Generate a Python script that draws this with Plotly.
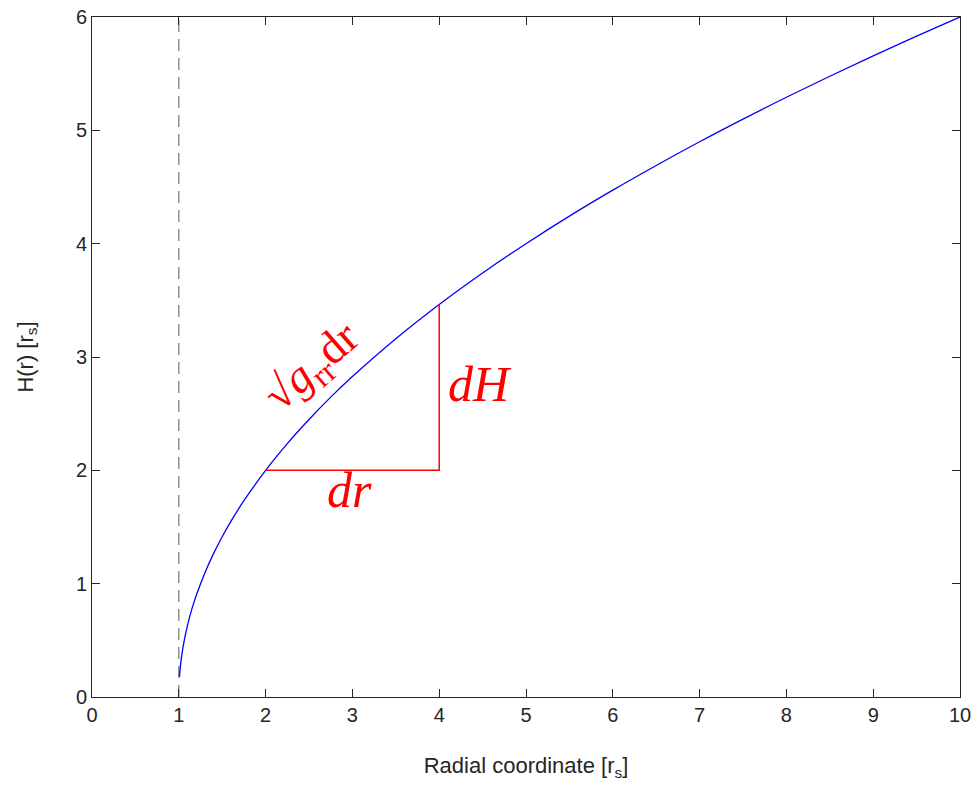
import plotly.graph_objects as go

# Embedding curve H(r)
r_vals = [1.008, 1.02, 1.05, 1.1, 1.15, 1.2, 1.3, 1.4, 1.5, 1.6, 1.75, 2.0, 2.25, 2.5, 2.75,
          3.0, 3.5, 4.0, 4.5, 5.0, 5.5, 6.0, 6.5, 7.0, 7.5, 8.0, 8.5, 9.0, 9.5, 10.0]
h_vals = [0.179, 0.283, 0.447, 0.632, 0.775, 0.894, 1.095, 1.265, 1.414, 1.549, 1.732, 2.0, 2.236,
          2.449, 2.646, 2.828, 3.162, 3.464, 3.742, 4.0, 4.243, 4.472, 4.690, 4.899, 5.099,
          5.292, 5.477, 5.657, 5.831, 6.0]

# Horizon (dashed vertical)
horizon_x = [1, 1]
horizon_y = [0, 6]

# Triangle dr / dH
tri_x = [2, 4, 4]
tri_y = [2, 2, 3.464]

x_ticks = [0, 1, 2, 3, 4, 5, 6, 7, 8, 9, 10]
y_ticks = [0, 1, 2, 3, 4, 5, 6]

axis_col = "#262626"
red = "#ff0000"

fig = go.Figure()
fig.add_trace(go.Scatter(x=horizon_x, y=horizon_y, mode="lines",
                         line=dict(color="#808080", width=1.3, dash="12px,7px"),
                         showlegend=False, hoverinfo="skip"))
fig.add_trace(go.Scatter(x=r_vals, y=h_vals, mode="lines", line_shape="spline",
                         line=dict(color="#0000ff", width=1.3), showlegend=False))
fig.add_trace(go.Scatter(x=tri_x, y=tri_y, mode="lines",
                         line=dict(color=red, width=1.5), showlegend=False))

serif = "Liberation Serif"
fig.add_annotation(x=2.55, y=2.9, xref="x", yref="y", showarrow=False,
                   text="√<i>g</i><sub>rr</sub>dr",
                   textangle=-41, font=dict(family=serif, size=46, color=red))
fig.add_annotation(x=4.47, y=2.76, xref="x", yref="y", showarrow=False,
                   text="<i>dH</i>", font=dict(family=serif, size=50, color=red))
fig.add_annotation(x=2.97, y=1.83, xref="x", yref="y", showarrow=False,
                   text="<i>dr</i>", font=dict(family=serif, size=50, color=red))

axis_common = dict(showgrid=False, zeroline=False, showline=True, linecolor=axis_col,
                   linewidth=1, mirror="ticks", ticks="inside", ticklen=8, tickwidth=1,
                   tickcolor=axis_col, automargin=False, ticklabeloverflow="allow",
                   tickfont=dict(family="Liberation Sans", size=20, color=axis_col))

fig.update_xaxes(range=[0, 10], tickvals=x_ticks, ticktext=[str(v) for v in x_ticks],
                 title=dict(text="Radial coordinate [r<sub>s</sub>]",
                            font=dict(family="Liberation Sans", size=22, color=axis_col),
                            standoff=32),
                 **axis_common)
fig.update_yaxes(range=[0, 6], tickvals=y_ticks, ticktext=[str(v) for v in y_ticks],
                 title=dict(text="H(r) [r<sub>s</sub>]",
                            font=dict(family="Liberation Sans", size=22, color=axis_col),
                            standoff=36),
                 **axis_common)

# page body has an 8px margin in the browser; compensate so the axes land where the reference has them
fig.update_layout(width=971, height=782, paper_bgcolor="white", plot_bgcolor="white",
                  margin=dict(l=84, r=19, t=9, b=93), showlegend=False)

fig.write_html("out.html")
